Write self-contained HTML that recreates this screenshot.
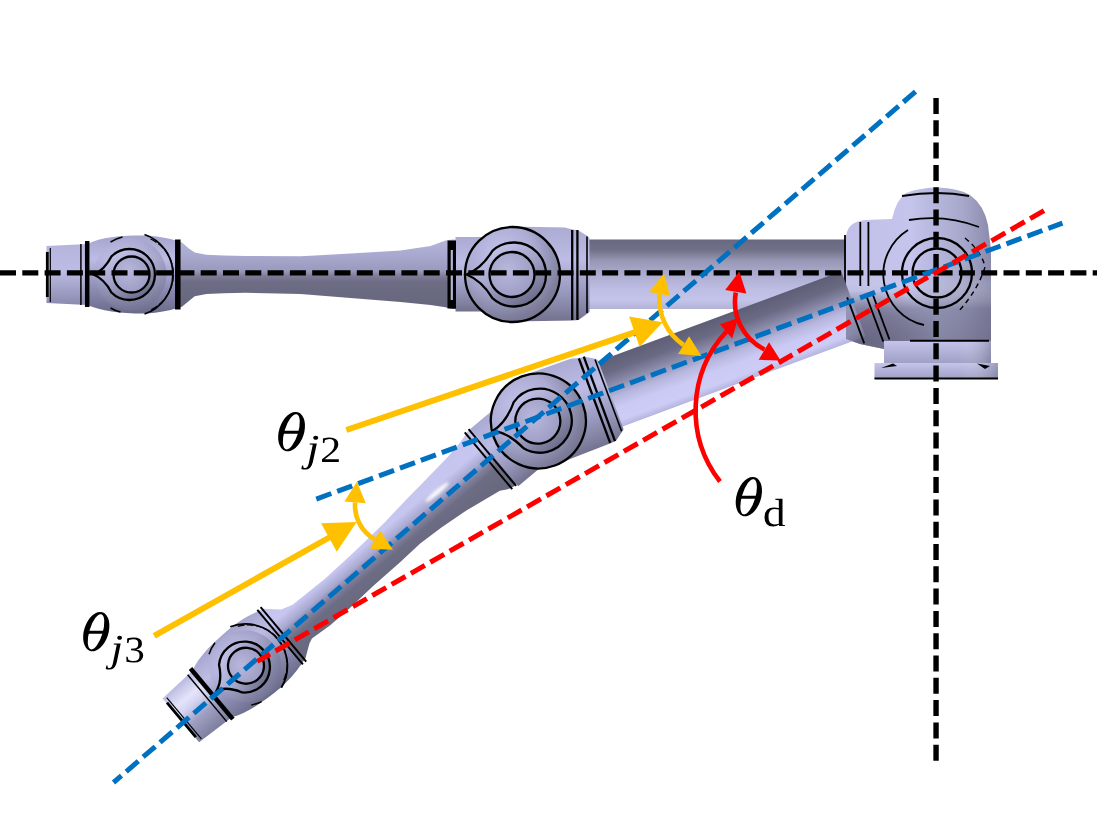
<!DOCTYPE html>
<html><head><meta charset="utf-8"><style>
html,body{margin:0;padding:0;background:#fff;width:1119px;height:814px;overflow:hidden;}
svg{display:block;}
</style></head><body>
<svg width="1119" height="814" viewBox="0 0 1119 814">
<defs>
<linearGradient id="gFlange" x1="0" y1="0" x2="0" y2="1">
 <stop offset="0" stop-color="#b4b4dc"/><stop offset="0.45" stop-color="#bcbce4"/><stop offset="1" stop-color="#8a8aae"/>
</linearGradient>
<filter id="blur2" x="-50%" y="-50%" width="200%" height="200%"><feGaussianBlur stdDeviation="1.6"/></filter>
<linearGradient id="gFlangeA" x1="0" y1="0" x2="0" y2="1">
 <stop offset="0" stop-color="#b8b8e0"/><stop offset="0.28" stop-color="#e4e4fa"/><stop offset="0.42" stop-color="#d4d4f2"/><stop offset="0.65" stop-color="#a0a0c4"/><stop offset="1" stop-color="#7c7c9c"/>
</linearGradient>
<linearGradient id="gLinkF" x1="0" y1="0" x2="0" y2="1">
 <stop offset="0" stop-color="#b6b6dc"/><stop offset="0.25" stop-color="#a8a8ce"/><stop offset="0.45" stop-color="#9a9abf"/><stop offset="0.53" stop-color="#7c7c98"/><stop offset="0.62" stop-color="#6c6c84"/><stop offset="1" stop-color="#66667c"/>
</linearGradient>
<linearGradient id="gLinkFa" x1="0" y1="0" x2="0" y2="1">
 <stop offset="0" stop-color="#c4c4ec"/><stop offset="0.3" stop-color="#c6c6f0"/><stop offset="0.45" stop-color="#a8a8d0"/><stop offset="0.55" stop-color="#80809c"/><stop offset="0.65" stop-color="#6c6c84"/><stop offset="1" stop-color="#66667c"/>
</linearGradient>
<linearGradient id="gJointF" x1="0" y1="0" x2="0" y2="1">
 <stop offset="0" stop-color="#a4a4cc"/><stop offset="0.3" stop-color="#bcbce4"/><stop offset="0.62" stop-color="#9494bc"/><stop offset="1" stop-color="#6a6a8a"/>
</linearGradient>
<linearGradient id="gLinkU" x1="0" y1="0" x2="0" y2="1">
 <stop offset="0" stop-color="#686880"/><stop offset="0.15" stop-color="#707088"/><stop offset="0.3" stop-color="#9696b4"/><stop offset="0.5" stop-color="#acacd0"/><stop offset="0.72" stop-color="#bebee4"/><stop offset="0.87" stop-color="#c4c4ea"/><stop offset="1" stop-color="#b2b2d6"/>
</linearGradient>
<linearGradient id="gLinkUa" x1="0" y1="0" x2="0" y2="1">
 <stop offset="0" stop-color="#5e5e76"/><stop offset="0.2" stop-color="#6a6a84"/><stop offset="0.4" stop-color="#9090b0"/><stop offset="0.55" stop-color="#b4b4dc"/><stop offset="0.72" stop-color="#cacaf4"/><stop offset="0.9" stop-color="#ccccf6"/><stop offset="1" stop-color="#b4b4dc"/>
</linearGradient>
<linearGradient id="gJointU" x1="0" y1="0" x2="0" y2="1">
 <stop offset="0" stop-color="#aaaad2"/><stop offset="0.35" stop-color="#bcbce4"/><stop offset="0.7" stop-color="#9898be"/><stop offset="1" stop-color="#72728e"/>
</linearGradient>
<radialGradient id="gFace" cx="0.38" cy="0.3" r="0.8">
 <stop offset="0" stop-color="#c4c4ec"/><stop offset="0.45" stop-color="#ababd3"/><stop offset="0.8" stop-color="#80809e"/><stop offset="1" stop-color="#6c6c88"/>
</radialGradient>
<linearGradient id="gRing" x1="0.2" y1="0.1" x2="0.8" y2="0.9">
 <stop offset="0" stop-color="#c8c8ee"/><stop offset="0.5" stop-color="#a4a4ca"/><stop offset="1" stop-color="#6e6e8c"/>
</linearGradient>
<radialGradient id="gInner" cx="0.4" cy="0.4" r="0.7">
 <stop offset="0" stop-color="#b8b8de"/><stop offset="1" stop-color="#9a9ac0"/>
</radialGradient>
<linearGradient id="gBase" x1="0" y1="0" x2="1" y2="0">
 <stop offset="0" stop-color="#c0c0e8"/><stop offset="0.45" stop-color="#c4c4ec"/><stop offset="0.8" stop-color="#a8a8cc"/><stop offset="1" stop-color="#8a8aac"/>
</linearGradient>
<linearGradient id="gBaseV" x1="0" y1="0" x2="0" y2="1">
 <stop offset="0" stop-color="#fff" stop-opacity="0"/><stop offset="0.55" stop-color="#fff" stop-opacity="0"/><stop offset="0.75" stop-color="#60607a" stop-opacity="0.45"/><stop offset="1" stop-color="#60607a" stop-opacity="0.6"/>
</linearGradient>
<linearGradient id="gHous" x1="0" y1="0" x2="1" y2="1">
 <stop offset="0" stop-color="#9c9cc0"/><stop offset="0.5" stop-color="#7c7c9a"/><stop offset="1" stop-color="#6c6c88"/>
</linearGradient>
<radialGradient id="gHousDark" cx="0.25" cy="0.85" r="0.9">
 <stop offset="0" stop-color="#5c5c76" stop-opacity="0.75"/><stop offset="0.55" stop-color="#5c5c76" stop-opacity="0.45"/><stop offset="1" stop-color="#5c5c76" stop-opacity="0"/>
</radialGradient>
<linearGradient id="gFl" x1="0" y1="0" x2="0" y2="1">
 <stop offset="0" stop-color="#c4c4ec"/><stop offset="1" stop-color="#a0a0c4"/>
</linearGradient>
<linearGradient id="gFlH" x1="0" y1="0" x2="1" y2="0">
 <stop offset="0" stop-color="#fff" stop-opacity="0"/><stop offset="0.7" stop-color="#fff" stop-opacity="0"/><stop offset="1" stop-color="#50506a" stop-opacity="0.35"/>
</linearGradient>
</defs>
<rect width="1119" height="814" fill="#fff"/>
<g transform="translate(130.5,274)"><path d="M-84,-28 L-43,-30 L-43,31 L-84,29 Z" fill="url(#gFlange)"/>
<path d="M44,-34 L51.4,-31.5 L58.4,-25.6 L64.2,-21.6 L75.9,-19.2 L93.4,-18.6 L115,-18 L170,-17.7 L220,-20.4 L270,-23.5 L300,-28 L315,-33.5 L322,-34.5 L383,-35 L383,35 L322,35 L315,33.2 L300,31 L270,28 L220,24 L170,20 L115,18.7 L93.4,19.3 L75.9,19.9 L64.2,22.2 L58.4,26.9 L51.4,32.8 L44,35 Z" fill="url(#gLinkF)"/>
<path d="M-43,-30 C-30,-37 -10,-38.5 13,-38.5 C30,-38 40,-35 47,-33 L47,34 C40,36 30,39 13,39.5 C-10,39.5 -30,37 -43,31 Z" fill="url(#gJointF)"/>
<circle cx="0" cy="0.5" r="36" fill="url(#gFace)" opacity="0.55"/>
<line x1="-83.2" y1="-22" x2="-83.2" y2="23" stroke="#000" stroke-width="2.8" />
<line x1="-80.2" y1="-26" x2="-80.2" y2="28" stroke="#000" stroke-width="1.2" />
<line x1="-49.6" y1="-30" x2="-49.6" y2="31" stroke="#000" stroke-width="1.5" />
<line x1="-43.3" y1="-33" x2="-43.3" y2="33" stroke="#000" stroke-width="4.5" />
<line x1="47.3" y1="-34.5" x2="47.3" y2="35.5" stroke="#000" stroke-width="5.5" />
<path d="M-37.0,0.5 Q-26.0,-4.0 -19.1,-17.5 A25.5,25.5 0 1 1 -19.1,18.5 Q-26.0,5.0 -37.0,0.5 Z" fill="url(#gRing)" stroke="#000" stroke-width="2.3"/>
<circle cx="1" cy="0.5" r="18" fill="url(#gInner)" stroke="#000" stroke-width="2.3"/>
<path d="M14,-39.5 A42,42 0 0 1 14,40" fill="none" stroke="#000" stroke-width="1.8"/>
<path d="M20,-35 A39,39 0 0 1 20,36" fill="none" stroke="#000" stroke-width="1.2" stroke-dasharray="7 2"/>
<path d="M-8,-37 A38,38 0 0 0 -20,-32" fill="none" stroke="#000" stroke-width="1.5"/>
<path d="M-20,34 A38,38 0 0 0 -10,38" fill="none" stroke="#000" stroke-width="1.5"/>
<path d="M325,-37 L383,-37 L383,37.5 L325,37.5 Z" fill="url(#gJointU)"/>
<rect x="317" y="-33.5" width="8.5" height="68" fill="#000"/>
<rect x="320.2" y="-24" width="2.2" height="50" fill="#b4b4d8"/></g>
<g transform="translate(512.5,274)"><path d="M70,-34.5 L336,-34.5 L336,35 L70,35 Z" fill="url(#gLinkU)"/>
<path d="M0,-47.5 L52,-46.5 L60,-44.5 L66,-43.5 L75,-38 L77,-36 L77,38 L75,39.5 L66,46 L60,46.5 L0,47.5 A47.5,47.5 0 0 1 0,-47.5 Z" fill="url(#gJointU)"/>
<circle cx="0" cy="0.5" r="47.5" fill="url(#gFace)" stroke="#000" stroke-width="2.3"/>
<line x1="59.7" y1="-44" x2="59.7" y2="46" stroke="#000" stroke-width="2.3" />
<line x1="64.9" y1="-44" x2="64.9" y2="46" stroke="#000" stroke-width="2.3" />
<line x1="74.5" y1="-37.5" x2="74.5" y2="39" stroke="#000" stroke-width="1.6" /></g>
<g transform="translate(512.5,274)"><path d="M-46.0,0.5 Q-31.0,-5.4 -20.1,-23.1 A32,32 0 1 1 -20.1,24.1 Q-31.0,6.4 -46.0,0.5 Z" fill="url(#gRing)" stroke="#000" stroke-width="2.3"/>
<circle cx="-0.5" cy="0.5" r="22.5" fill="url(#gInner)" stroke="#000" stroke-width="2.3"/></g>

<path d="M846,236 Q848,221 866,220 L892,219 Q896,200 906,193 Q920,187.5 938,187.5 Q958,188 970,195 Q984,205 988,225 L991,250 L991,341 L884,341 L884,349 L860,344 L846,339 Z" fill="url(#gBase)"/>
<path d="M846,236 Q848,221 866,220 L892,219 Q896,200 906,193 Q920,187.5 938,187.5 Q958,188 970,195 Q984,205 988,225 L991,250 L991,341 L884,341 L884,349 L860,344 L846,339 Z" fill="url(#gBaseV)"/>
<rect x="884" y="341" width="107" height="22" fill="url(#gFl)"/>
<rect x="884" y="341" width="107" height="22" fill="url(#gFlH)"/>
<rect x="874.5" y="363" width="123.5" height="16" fill="url(#gFl)"/>
<rect x="874.5" y="363" width="123.5" height="16" fill="url(#gFlH)"/>

<g transform="translate(512.5,274)"><line x1="332.5" y1="-39" x2="332.5" y2="39" stroke="#000" stroke-width="1.8" />
<line x1="347.8" y1="-52" x2="347.8" y2="12" stroke="#000" stroke-width="1.8" />
<line x1="355.9" y1="-52" x2="355.9" y2="12" stroke="#000" stroke-width="1.8" /></g>
<g transform="translate(244.9,666) rotate(-39.930)"><path d="M-84,-28 L-43,-30 L-43,31 L-84,29 Z" fill="url(#gFlangeA)"/>
<path d="M44,-34 L51.4,-31.5 L58.4,-25 L64.2,-20 L75.9,-16.5 L93,-15.9 L117,-15.5 L151,-17 L175,-18.5 L200,-20.5 L230,-24 L260,-27 L290,-30 L310,-33.5 L322,-37 L383,-37 L383,35 L322,35 L315,33.2 L308,29.2 L270,23 L240,20 L213,18.6 L186,20 L150,21 L117,23 L92,23.5 L69,22 L64.2,24 L58.4,28 L51.4,33 L44,35 Z" fill="url(#gLinkFa)"/>
<path d="M-43,-30 C-30,-37 -10,-38.5 13,-38.5 C30,-38 40,-35 47,-33 L47,34 C40,36 30,39 13,39.5 C-10,39.5 -30,37 -43,31 Z" fill="url(#gJointF)"/>
<circle cx="0" cy="0.5" r="36" fill="url(#gFace)" opacity="0.55"/>
<line x1="-83.2" y1="-22" x2="-83.2" y2="23" stroke="#000" stroke-width="2.8" />
<line x1="-80.2" y1="-26" x2="-80.2" y2="28" stroke="#000" stroke-width="1.2" />
<line x1="-49.6" y1="-30" x2="-49.6" y2="31" stroke="#000" stroke-width="1.5" />
<line x1="-43.3" y1="-33" x2="-43.3" y2="33" stroke="#000" stroke-width="4.5" />
<line x1="45.5" y1="-35" x2="45.5" y2="36" stroke="#000" stroke-width="2.0" />
<line x1="49.8" y1="-35" x2="49.8" y2="36" stroke="#000" stroke-width="2.0" />
<path d="M-37.0,0.5 Q-26.0,-4.0 -19.1,-17.5 A25.5,25.5 0 1 1 -19.1,18.5 Q-26.0,5.0 -37.0,0.5 Z" fill="url(#gRing)" stroke="#000" stroke-width="2.3"/>
<circle cx="1" cy="0.5" r="18" fill="url(#gInner)" stroke="#000" stroke-width="2.3"/>
<path d="M14,-39.5 A42,42 0 0 1 14,40" fill="none" stroke="#000" stroke-width="1.8"/>
<path d="M20,-35 A39,39 0 0 1 20,36" fill="none" stroke="#000" stroke-width="1.2" stroke-dasharray="7 2"/>
<path d="M-8,-37 A38,38 0 0 0 -20,-32" fill="none" stroke="#000" stroke-width="1.5"/>
<path d="M-20,34 A38,38 0 0 0 -10,38" fill="none" stroke="#000" stroke-width="1.5"/>
<path d="M325,-37 L383,-37 L383,37.5 L325,37.5 Z" fill="url(#gJointU)"/>
<line x1="318.5" y1="-38" x2="318.5" y2="36" stroke="#000" stroke-width="2.0" />
<line x1="323.5" y1="-38" x2="323.5" y2="36" stroke="#000" stroke-width="2.0" /><ellipse cx="259" cy="-10" rx="15" ry="2.6" fill="#fff" opacity="0.95" filter="url(#blur2)"/></g>
<g transform="translate(538.2,420.5) rotate(-20.344)"><path d="M70,-34.5 L336,-34.5 L336,35 L70,35 Z" fill="url(#gLinkUa)"/>
<path d="M0,-47.5 L52,-46.5 L60,-44.5 L66,-43.5 L75,-38 L77,-36 L77,38 L75,39.5 L66,46 L60,46.5 L0,47.5 A47.5,47.5 0 0 1 0,-47.5 Z" fill="url(#gJointU)"/>
<circle cx="0" cy="0.5" r="47.5" fill="url(#gFace)" stroke="#000" stroke-width="2.3"/>
<line x1="59.7" y1="-44" x2="59.7" y2="46" stroke="#000" stroke-width="2.3" />
<line x1="64.9" y1="-44" x2="64.9" y2="46" stroke="#000" stroke-width="2.3" />
<line x1="74.5" y1="-37.5" x2="74.5" y2="39" stroke="#000" stroke-width="1.6" /></g>
<g transform="translate(538.2,420.5) rotate(-12)"><path d="M-46.0,0.5 Q-31.0,-5.4 -20.1,-23.1 A32,32 0 1 1 -20.1,24.1 Q-31.0,6.4 -46.0,0.5 Z" fill="url(#gRing)" stroke="#000" stroke-width="2.3"/>
<circle cx="-0.5" cy="0.5" r="22.5" fill="url(#gInner)" stroke="#000" stroke-width="2.3"/></g>
<path d="M846,292 L935,292 L935,341 L884,341 L884,349 L860,344 L846,339 Z" fill="url(#gHousDark)"/>
<g transform="translate(538.2,420.5) rotate(-20.344)"><line x1="332.5" y1="-8" x2="332.5" y2="41" stroke="#000" stroke-width="1.8" />
<line x1="351" y1="-4" x2="351" y2="46" stroke="#000" stroke-width="1.8" />
<line x1="357.5" y1="-4" x2="357.5" y2="46" stroke="#000" stroke-width="1.8" /></g>

<line x1="874.5" y1="378.6" x2="998" y2="378.6" stroke="#000" stroke-width="2" />
<line x1="910" y1="340.8" x2="989" y2="340.8" stroke="#000" stroke-width="2" />
<path d="M881,368 L893,363.5 L897,366 Z" fill="#000"/>
<path d="M977,363.5 L990,366 L985,369 Z" fill="#000"/>
<circle cx="937" cy="273" r="24.5" fill="none" stroke="#000" stroke-width="2.3"/>
<circle cx="937" cy="273" r="35" fill="none" stroke="#000" stroke-width="2.3"/>
<path d="M908,230 A52,52 0 0 0 924,325" fill="none" stroke="#000" stroke-width="1.8"/>
<path d="M909,220 Q945,214 979,227" fill="none" stroke="#000" stroke-width="1.8"/>
<path d="M902,196 Q938,190 969,196" fill="none" stroke="#000" stroke-width="1.8"/>
<path d="M965,238 Q982,252 985,267 Q978,290 958,312" fill="none" stroke="#000" stroke-width="1.4" stroke-dasharray="5 4"/>

<line x1="0" y1="272.9" x2="1097" y2="272.9" stroke="#000" stroke-width="5.4" stroke-dasharray="16 6.3" stroke-dashoffset="0"/><line x1="936.05" y1="98.0" x2="936.05" y2="762" stroke="#000" stroke-width="5.4" stroke-dasharray="16 6.3" stroke-dashoffset="0"/><line x1="113.5" y1="782.5" x2="915.55" y2="91.55" stroke="#0070c0" stroke-width="5" stroke-dasharray="16 6.3" stroke-dashoffset="5.5"/><line x1="316.27" y1="499.08" x2="1062.44" y2="223.09" stroke="#0070c0" stroke-width="5" stroke-dasharray="16 6.3" stroke-dashoffset="0"/><line x1="257.3" y1="661.4" x2="1044" y2="210.7" stroke="#ff0000" stroke-width="5" stroke-dasharray="16 6.3" stroke-dashoffset="1.3"/>

<line x1="346.3" y1="430" x2="636" y2="331.8" stroke="#ffc000" stroke-width="6"/>
<polygon points="662.6,322.2 629.1,316.4 639.6,347.1" fill="#ffc000"/>
<path d="M659.6,294 A55,55 0 0 0 683.6,345" fill="none" stroke="#ffc000" stroke-width="4.6"/>
<polygon points="663.9,273.6 649.2,292 670.1,295.7" fill="#ffc000"/>
<polygon points="701.4,355.9 678.1,354 689.1,336.2" fill="#ffc000"/>
<line x1="154.2" y1="635.9" x2="331" y2="536.5" stroke="#ffc000" stroke-width="6"/>
<polygon points="356.6,522 321.1,523.2 336.8,551.7" fill="#ffc000"/>
<path d="M355.1,502.4 A39.1,39.1 0 0 0 375,539.5" fill="none" stroke="#ffc000" stroke-width="4.6"/>
<polygon points="356.9,481.8 344.4,501.6 365.8,503.2" fill="#ffc000"/>
<polygon points="393,549.7 370,548.7 379.9,530.4" fill="#ffc000"/>
<path d="M720,481.5 A116,116 0 0 1 726.5,331.5" fill="none" stroke="#ff0000" stroke-width="4.6"/>
<polygon points="738,317.9 720,324.3 732.2,338.5" fill="#ff0000"/>
<path d="M735.8,292.5 A53.2,53.2 0 0 0 764.5,349.5" fill="none" stroke="#ff0000" stroke-width="4.6"/>
<polygon points="739.3,271.4 725.2,290.1 746.4,293.4" fill="#ff0000"/>
<polygon points="780.6,360.4 758.7,359.8 769,342.3" fill="#ff0000"/>

<g font-family="Liberation Serif, serif" fill="#000"><g transform="translate(291.55,431.60) scale(1.025,1.013)"><ellipse cx="0" cy="0" rx="12.13" ry="20.06" transform="rotate(18)" fill="#000"/><ellipse cx="-0.15" cy="0.3" rx="6.63" ry="18.08" transform="rotate(17)" fill="#fff"/><rect x="-9" y="-0.85" width="18" height="2.9" fill="#000" transform="skewX(-13)"/></g><path transform="matrix(0.02290,0,0,-0.01886,306.32,461.28)" d="M-59 -436Q-140 -436 -219 -406L-186 -219H-139L-124 -329Q-97 -356 -53 -356Q12 -356 49.5 -292.0Q87 -228 111 -90L281 870L144 895L152 940H459L285 -39Q249 -241 164.5 -338.5Q80 -436 -59 -436ZM519 1247Q519 1203 487.0 1171.0Q455 1139 410 1139Q366 1139 334.0 1171.0Q302 1203 302 1247Q302 1292 334.0 1324.0Q366 1356 410 1356Q455 1356 487.0 1324.0Q519 1292 519 1247Z"/><path transform="matrix(0.02046,0,0,-0.01799,320.16,462.00)" d="M911 0H90V147L276 316Q455 473 539.0 570.0Q623 667 659.5 770.0Q696 873 696 1006Q696 1136 637.0 1204.0Q578 1272 444 1272Q391 1272 335.0 1257.5Q279 1243 236 1219L201 1055H135V1313Q317 1356 444 1356Q664 1356 774.5 1264.5Q885 1173 885 1006Q885 894 841.5 794.5Q798 695 708.0 596.5Q618 498 410 321Q321 245 221 154H911Z"/><g transform="translate(96.25,631.60) scale(1.002,1.013)"><ellipse cx="0" cy="0" rx="12.13" ry="20.06" transform="rotate(18)" fill="#000"/><ellipse cx="-0.15" cy="0.3" rx="6.63" ry="18.08" transform="rotate(17)" fill="#fff"/><rect x="-9" y="-0.85" width="18" height="2.9" fill="#000" transform="skewX(-13)"/></g><path transform="matrix(0.02209,0,0,-0.01886,110.54,661.28)" d="M-59 -436Q-140 -436 -219 -406L-186 -219H-139L-124 -329Q-97 -356 -53 -356Q12 -356 49.5 -292.0Q87 -228 111 -90L281 870L144 895L152 940H459L285 -39Q249 -241 164.5 -338.5Q80 -436 -59 -436ZM519 1247Q519 1203 487.0 1171.0Q455 1139 410 1139Q366 1139 334.0 1171.0Q302 1203 302 1247Q302 1292 334.0 1324.0Q366 1356 410 1356Q455 1356 487.0 1324.0Q519 1292 519 1247Z"/><path transform="matrix(0.01998,0,0,-0.01817,124.34,662.24)" d="M944 365Q944 184 820.0 82.0Q696 -20 469 -20Q279 -20 109 23L98 305H164L209 117Q248 95 319.5 79.0Q391 63 453 63Q610 63 685.0 135.0Q760 207 760 375Q760 507 691.0 575.5Q622 644 477 651L334 659V741L477 750Q590 756 644.0 820.0Q698 884 698 1014Q698 1149 639.5 1210.5Q581 1272 453 1272Q400 1272 342.0 1257.5Q284 1243 240 1219L205 1055H139V1313Q238 1339 310.0 1347.5Q382 1356 453 1356Q883 1356 883 1026Q883 887 806.5 804.5Q730 722 590 702Q772 681 858.0 597.5Q944 514 944 365Z"/><g transform="translate(748.85,496.60) scale(1.002,1.013)"><ellipse cx="0" cy="0" rx="12.13" ry="20.06" transform="rotate(18)" fill="#000"/><ellipse cx="-0.15" cy="0.3" rx="6.63" ry="18.08" transform="rotate(17)" fill="#fff"/><rect x="-9" y="-0.85" width="18" height="2.9" fill="#000" transform="skewX(-13)"/></g><path transform="matrix(0.02227,0,0,-0.01915,762.85,526.02)" d="M723 70Q610 -20 459 -20Q74 -20 74 461Q74 708 183.0 836.5Q292 965 504 965Q612 965 723 942Q717 975 717 1108V1352L559 1376V1421H883V70L999 45V0H735ZM254 461Q254 271 318.0 177.5Q382 84 514 84Q627 84 717 123V866Q628 883 514 883Q254 883 254 461Z"/></g>
</svg>
</body></html>
